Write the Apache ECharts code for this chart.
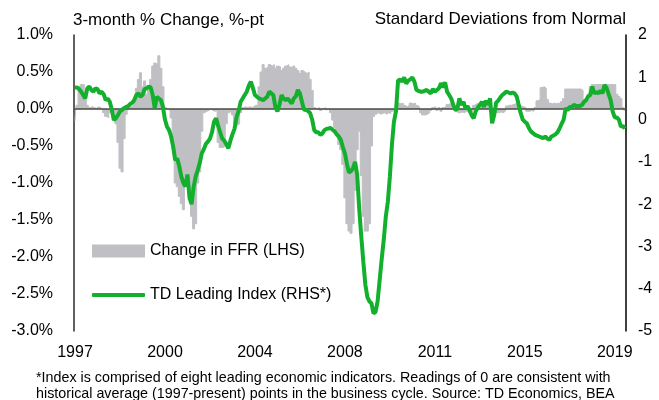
<!DOCTYPE html>
<html>
<head>
<meta charset="utf-8">
<script src="https://cdn.jsdelivr.net/npm/echarts@6/dist/echarts.min.js"></script>
<style>
  html, body { margin: 0; padding: 0; background: #fff; }
  #chart { width: 659px; height: 400px; }
</style>
</head>
<body>
<div id="chart"></div>
<script>
// monthly, Jan 1997 - Jun 2019
const startYear = 1997;
const monthCount = 270;

// Change in FFR, 3-month %-pt change (LHS)
const ffrChange = [
  -0.16, 0.05, 0.30, 0.33, 0.33, 0.20, 0.05, 0.02, 0.03, 0.02, 0.01, 0.03,
  0.02, 0.00, -0.05, -0.10, -0.12, -0.05, -0.03, -0.05, -0.20, -0.45, -0.80, -0.85,
  -0.40, -0.07, 0.00, 0.03, 0.05, 0.10, 0.28, 0.40, 0.49, 0.30, 0.38, 0.20,
  0.30, 0.40, 0.58, 0.62, 0.60, 0.72, 0.55, 0.30, 0.02, 0.00, -0.02, -0.12,
  -0.53, -1.00, -1.05, -1.18, -1.28, -1.36, -1.05, -0.90, -1.20, -1.45, -1.62, -1.55,
  -1.00, -0.85, -0.30, -0.05, -0.03, -0.02, 0.00, -0.02, -0.03, -0.02, -0.45, -0.52,
  -0.52, -0.50, -0.20, -0.05, -0.03, -0.08, -0.20, -0.22, -0.20, -0.05, 0.02, 0.03,
  0.02, 0.03, 0.02, 0.03, 0.05, 0.05, 0.30, 0.50, 0.60, 0.55, 0.57, 0.60,
  0.58, 0.60, 0.55, 0.58, 0.57, 0.52, 0.55, 0.58, 0.60, 0.57, 0.55, 0.58,
  0.55, 0.52, 0.48, 0.52, 0.50, 0.48, 0.50, 0.40, 0.25, 0.02, 0.00, 0.02,
  -0.02, 0.00, 0.02, -0.01, 0.00, -0.05, -0.15, -0.25, -0.35, -0.48, -0.55, -0.75,
  -1.20, -1.55, -1.65, -1.68, -1.55, -1.10, -0.55, -0.30, -0.90, -1.45, -1.65, -1.65,
  -1.55, -0.50, -0.10, -0.07, -0.05, -0.07, -0.06, -0.05, -0.07, -0.05, -0.06, -0.03,
  -0.02, 0.02, 0.08, 0.07, 0.08, 0.05, 0.03, 0.05, 0.08, 0.07, 0.08, 0.05,
  0.03, -0.05, -0.08, -0.08, -0.07, -0.05, -0.02, 0.02, 0.03, -0.02, 0.02, -0.03,
  0.02, 0.03, 0.06, 0.07, 0.07, 0.05, -0.03, -0.05, -0.05, -0.04, -0.05, -0.03,
  -0.05, -0.04, -0.03, 0.05, 0.07, 0.07, 0.06, 0.05, 0.04, 0.03, 0.04, 0.03,
  -0.02, -0.04, -0.05, -0.05, -0.04, -0.05, -0.03, 0.04, 0.05, 0.05, 0.06, 0.07,
  0.07, 0.05, 0.04, 0.03, 0.02, -0.03, -0.03, -0.02, -0.03, 0.02, 0.11, 0.13,
  0.29, 0.30, 0.28, 0.13, 0.08, 0.07, 0.08, 0.07, 0.08, 0.07, 0.10, 0.14,
  0.27, 0.27, 0.27, 0.27, 0.27, 0.27, 0.27, 0.27, 0.25, 0.12, 0.10, 0.12,
  0.30, 0.33, 0.33, 0.33, 0.33, 0.33, 0.33, 0.33, 0.33, 0.33, 0.33, 0.33,
  0.33, 0.20, 0.17, 0.14, 0.02, -0.02
];

// TD Leading Index, standard deviations from normal (RHS)
const tdIndex = [
  0.76, 0.76, 0.72, 0.66, 0.58, 0.50, 0.74, 0.78, 0.70, 0.66, 0.74, 0.72,
  0.62, 0.66, 0.60, 0.46, 0.50, 0.42, 0.23, -0.01, 0.03, 0.11, 0.19, 0.23,
  0.27, 0.30, 0.32, 0.37, 0.40, 0.46, 0.58, 0.62, 0.54, 0.58, 0.72, 0.74,
  0.78, 0.76, 0.58, 0.27, 0.54, 0.50, 0.46, 0.30, 0.00, -0.17, -0.25, -0.40,
  -0.64, -0.96, -0.92, -1.11, -1.35, -1.50, -1.58, -1.30, -1.85, -2.00, -1.60, -1.35,
  -1.20, -1.03, -0.80, -0.70, -0.58, -0.52, -0.45, -0.30, -0.05, 0.03, -0.15, -0.30,
  -0.45, -0.50, -0.58, -0.68, -0.50, -0.35, -0.22, 0.05, 0.20, 0.42, 0.50, 0.58,
  0.66, 0.80, 0.90, 0.75, 0.58, 0.54, 0.50, 0.48, 0.46, 0.50, 0.54, 0.66,
  0.62, 0.58, 0.30, 0.19, 0.35, 0.58, 0.50, 0.46, 0.50, 0.44, 0.38, 0.50,
  0.55, 0.70, 0.62, 0.42, 0.23, 0.23, 0.20, 0.15, 0.00, -0.25, -0.30, -0.30,
  -0.36, -0.33, -0.25, -0.22, -0.21, -0.20, -0.24, -0.28, -0.35, -0.40, -0.48, -0.65,
  -0.80, -1.05, -1.25, -1.22, -1.15, -1.00, -1.30, -2.10, -2.75, -3.35, -3.90, -4.20,
  -4.30, -4.35, -4.58, -4.55, -4.30, -3.80, -3.30, -2.85, -2.30, -1.95, -1.35, -0.60,
  -0.05, 0.20, 0.92, 0.95, 0.90, 1.00, 0.85, 0.92, 0.95, 1.00, 0.90, 0.70,
  0.68, 0.66, 0.66, 0.68, 0.70, 0.66, 0.62, 0.72, 0.66, 0.70, 0.74, 0.86,
  0.76, 0.88, 0.66, 0.58, 0.50, 0.35, 0.23, 0.25, 0.50, 0.35, 0.42, 0.26,
  0.32, 0.22, 0.10, 0.03, 0.20, 0.28, 0.35, 0.42, 0.30, 0.45, 0.35, 0.50,
  -0.09, 0.10, 0.40, 0.45, 0.52, 0.58, 0.62, 0.66, 0.64, 0.62, 0.64, 0.62,
  0.55, 0.35, 0.15, 0.00, -0.05, -0.09, -0.20, -0.28, -0.32, -0.36, -0.38, -0.40,
  -0.42, -0.44, -0.40, -0.45, -0.48, -0.40, -0.38, -0.35, -0.30, -0.21, -0.10, 0.00,
  0.27, 0.22, 0.30, 0.30, 0.35, 0.32, 0.32, 0.32, 0.35, 0.42, 0.46, 0.55,
  0.58, 0.78, 0.62, 0.65, 0.62, 0.68, 0.62, 0.82, 0.75, 0.60, 0.46, 0.19,
  0.05, 0.05, 0.00, -0.17, -0.15, -0.21
];

const months = [];
for (let i = 0; i < monthCount; i++) {
  const y = startYear + Math.floor(i / 12);
  const m = (i % 12) + 1;
  months.push(y + "-" + (m < 10 ? "0" + m : m));
}

const FONT = "'Liberation Sans', Arial, sans-serif";
const GRAY = "#bfbfc4";
const GREEN = "#12b02c";

const chart = echarts.init(document.getElementById("chart"), null, { renderer: "canvas" });

const legendBase = {
  orient: "vertical",
  left: 92,
  itemWidth: 53,
  padding: 0,
  selectedMode: false,
  textStyle: { fontFamily: FONT, fontSize: 16, color: "#000" },
};

chart.setOption({
  animation: false,
  backgroundColor: "#ffffff",
  textStyle: { fontFamily: FONT },
  title: [
    {
      text: "3-month % Change, %-pt",
      left: 73,
      top: 12,
      padding: 0,
      textStyle: { fontFamily: FONT, fontSize: 17, fontWeight: "normal", color: "#000" },
    },
    {
      text: "Standard Deviations from Normal",
      right: 33,
      top: 11,
      padding: 0,
      textStyle: { fontFamily: FONT, fontSize: 17, fontWeight: "normal", color: "#000" },
    },
    {
      text:
        "*Index is comprised of eight leading economic indicators. Readings of 0 are consistent with\n" +
        "historical average (1997-present) points in the business cycle. Source: TD Economics, BEA",
      left: 36,
      top: 370,
      padding: 0,
      textStyle: { fontFamily: FONT, fontSize: 14.3, fontWeight: "normal", color: "#000", lineHeight: 16 },
    },
  ],
  legend: [
    Object.assign({}, legendBase, {
      top: 243,
      itemHeight: 13,
      data: [{ name: "Change in FFR (LHS)", icon: "rect" }],
    }),
    Object.assign({}, legendBase, {
      top: 287,
      itemHeight: 4,
      data: [{ name: "TD Leading Index (RHS*)", icon: "roundRect" }],
    }),
  ],
  grid: { left: 74, right: 33, top: 35, bottom: 69 },
  xAxis: {
    type: "category",
    data: months,
    boundaryGap: true,
    axisLine: { show: false },
    axisTick: { show: false },
    axisLabel: {
      interval: 43,
      margin: 14,
      color: "#000",
      fontSize: 16,
      fontFamily: FONT,
      formatter: (v) => v.slice(0, 4),
    },
    splitLine: { show: false },
  },
  yAxis: [
    {
      type: "value",
      min: -3,
      max: 1,
      interval: 0.5,
      axisLine: { show: true, lineStyle: { color: "#2e2e26", width: 1.5 } },
      axisTick: { show: false },
      axisLabel: {
        margin: 21,
        color: "#000",
        fontSize: 16,
        fontFamily: FONT,
        formatter: (v) => v.toFixed(1) + "%",
      },
      splitLine: { show: false },
    },
    {
      type: "value",
      min: -5,
      max: 2,
      interval: 1,
      position: "right",
      axisLine: { show: true, lineStyle: { color: "#000", width: 1.5 } },
      axisTick: { show: false },
      axisLabel: { margin: 12, color: "#000", fontSize: 16, fontFamily: FONT },
      splitLine: { show: false },
    },
  ],
  series: [
    {
      // monthly bars drawn as a stepped area so neighbouring columns don't leave seams
      name: "Change in FFR (LHS)",
      type: "line",
      step: "middle",
      yAxisIndex: 0,
      data: ffrChange,
      symbol: "none",
      lineStyle: { color: GRAY, width: 1 },
      itemStyle: { color: GRAY },
      areaStyle: { color: GRAY, opacity: 1 },
      z: 2,
      markLine: {
        silent: true,
        symbol: ["none", "none"],
        label: { show: false },
        lineStyle: { color: "#4a4a42", width: 1.5, type: "solid" },
        data: [{ yAxis: 0 }],
      },
    },
    {
      name: "TD Leading Index (RHS*)",
      type: "line",
      yAxisIndex: 1,
      data: tdIndex,
      symbol: "none",
      lineStyle: { color: GREEN, width: 4 },
      itemStyle: { color: GREEN },
      z: 5,
    },
  ],
});
</script>
</body>
</html>
